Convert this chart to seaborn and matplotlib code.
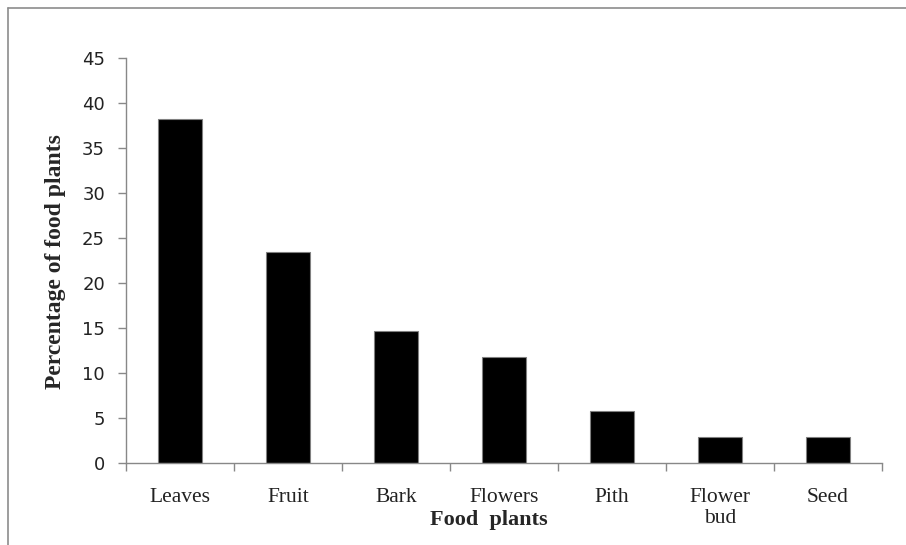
import matplotlib
matplotlib.use("Agg")
import matplotlib.pyplot as plt
from matplotlib.lines import Line2D
import numpy as np
import pandas as pd
import seaborn as sns

# data
parts = ["Leaves", "Fruit", "Bark", "Flowers", "Pith", "Flower\nbud", "Seed"]
percent = [38.2, 23.4, 14.7, 11.8, 5.8, 2.9, 2.9]
yticks = [0, 5, 10, 15, 20, 25, 30, 35, 40, 45]

df = pd.DataFrame({"part": parts, "percent": percent})

sns.set_style("white")
plt.rcParams["font.family"] = ["DejaVu Sans"]

fig = plt.figure(figsize=(9.06, 5.45), dpi=100)
ax = fig.add_axes([0.139, 0.1505, 0.8345, 0.743])

sns.barplot(data=df, x="part", y="percent", color="black", width=0.41,
            edgecolor="#808080", linewidth=0.8, saturation=1, ax=ax)

ax.set_ylim(0, 45)
ax.set_xlim(-0.5, len(parts) - 0.5)
ax.set_yticks(yticks)
ax.set_yticklabels([str(v) for v in yticks], fontsize=13, color="#222222")

# category boundary ticks, labels centred in between
ax.set_xticks(np.arange(len(parts) + 1) - 0.5)
ax.set_xticklabels([])
ax.set_xticks(np.arange(len(parts)), minor=True)
ax.set_xticklabels(parts, minor=True, family="Liberation Serif", fontsize=15.5,
                   color="#222222", linespacing=1.15)
ax.tick_params(axis="x", which="minor", bottom=True, length=0, pad=18)
ax.tick_params(axis="x", which="major", bottom=True, length=6, width=1,
               color="#888888", direction="out")
ax.tick_params(axis="y", left=True, length=6, width=1, color="#888888",
               direction="out", pad=9)

for s in ["top", "right"]:
    ax.spines[s].set_visible(False)
for s in ["left", "bottom"]:
    ax.spines[s].set_color("#888888")
    ax.spines[s].set_linewidth(1)

ax.set_xlabel("")
ax.set_ylabel("")
fig.text(0.54, 0.045, "Food  plants", ha="center", va="center",
         family="Liberation Serif", fontweight="bold", fontsize=16)
fig.text(0.061, 0.52, "Percentage of food plants", ha="center", va="center",
         rotation=90, family="Liberation Serif", fontweight="bold", fontsize=17)

# outer frame (left and top edge only, as in the source image)
fig.add_artist(Line2D([0.009, 0.009], [0, 0.985], transform=fig.transFigure,
                      color="#8c8c8c", linewidth=1.2))
fig.add_artist(Line2D([0.009, 1], [0.985, 0.985], transform=fig.transFigure,
                      color="#8c8c8c", linewidth=1.2))

fig.savefig("out.png", dpi=100)
